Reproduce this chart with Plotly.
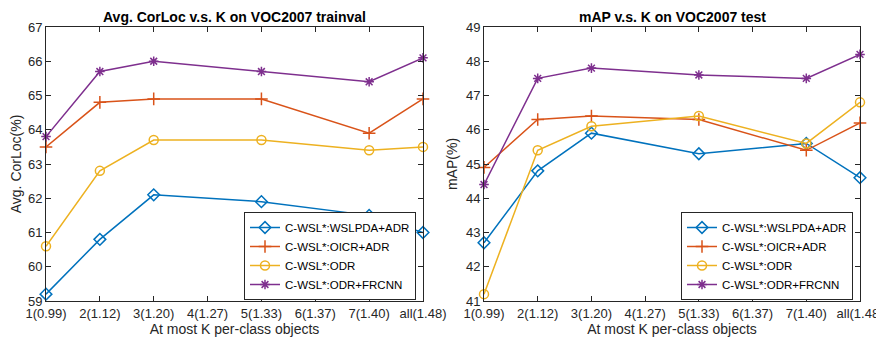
import plotly.graph_objects as go

tick_labels = ["1(0.99)", "2(1.12)", "3(1.20)", "4(1.27)", "5(1.33)", "6(1.37)", "7(1.40)", "all(1.48)"]
x_pos = [1, 2, 3, 5, 7, 8]
series_names = ["C-WSL*:WSLPDA+ADR", "C-WSL*:OICR+ADR", "C-WSL*:ODR", "C-WSL*:ODR+FRCNN"]

corloc_wslpda = [59.2, 60.8, 62.1, 61.9, 61.5, 61.0]
corloc_oicr = [63.5, 64.8, 64.9, 64.9, 63.9, 64.9]
corloc_odr = [60.6, 62.8, 63.7, 63.7, 63.4, 63.5]
corloc_frcnn = [63.8, 65.7, 66.0, 65.7, 65.4, 66.1]

map_wslpda = [42.7, 44.8, 45.9, 45.3, 45.6, 44.6]
map_oicr = [44.9, 46.3, 46.4, 46.3, 45.4, 46.2]
map_odr = [41.2, 45.4, 46.1, 46.4, 45.6, 46.8]
map_frcnn = [44.4, 47.5, 47.8, 47.6, 47.5, 48.2]

colors = ["#0072BD", "#D95319", "#EDB120", "#7E2F8E"]
symbols = ["diamond-open", "cross-thin-open", "circle-open", "asterisk-open"]
sizes = [9, 9, 9, 8]
FONT = "Liberation Sans, Arial"

fig = go.Figure()
left = [corloc_wslpda, corloc_oicr, corloc_odr, corloc_frcnn]
right = [map_wslpda, map_oicr, map_odr, map_frcnn]
for i in range(4):
    fig.add_trace(go.Scatter(x=x_pos, y=left[i], name=series_names[i], mode="lines+markers",
                             line=dict(color=colors[i], width=1.5),
                             marker=dict(symbol=symbols[i], size=sizes[i], color=colors[i],
                                         line=dict(width=1.5, color=colors[i])),
                             xaxis="x", yaxis="y", legend="legend", cliponaxis=False))
for i in range(4):
    fig.add_trace(go.Scatter(x=x_pos, y=right[i], name=series_names[i], mode="lines+markers",
                             line=dict(color=colors[i], width=1.5),
                             marker=dict(symbol=symbols[i], size=sizes[i], color=colors[i],
                                         line=dict(width=1.5, color=colors[i])),
                             xaxis="x2", yaxis="y2", legend="legend2", cliponaxis=False))

axis_common = dict(showgrid=False, zeroline=False, showline=True, linecolor="#262626", linewidth=1,
                   mirror="ticks", ticks="inside", ticklen=5, tickcolor="#262626", automargin=False,
                   tickfont=dict(family=FONT, size=13, color="#262626"))
xcommon = dict(axis_common, range=[1, 8], tickmode="array", tickvals=list(range(1, 9)),
               ticktext=tick_labels,
               title=dict(text="At most K per-class objects", standoff=3,
                          font=dict(family=FONT, size=14, color="#262626")))

# the page places the figure 8px right of and below the window corner
OFF = 8
W, H = 884 - OFF, 339 - OFF
ML, MR, MT, MB = 46 - OFF, 24, 27 - OFF, 38
PW = W - ML - MR
PH = H - MT - MB


def px_x(sx):
    return (sx - OFF - ML) / PW


def px_y(sy):
    return (339 - sy - MB) / PH


fig.update_layout(
    width=W, height=H, margin=dict(l=ML, r=MR, t=MT, b=MB, autoexpand=False),
    plot_bgcolor="white", paper_bgcolor="white",
    xaxis=dict(xcommon, domain=[0, px_x(423)], anchor="y"),
    xaxis2=dict(xcommon, domain=[px_x(484), 1], anchor="y2"),
    yaxis=dict(axis_common, domain=[0, 1], range=[59, 67], dtick=1, anchor="x",
               title=dict(text="Avg. CorLoc(%)", standoff=5,
                          font=dict(family=FONT, size=14, color="#262626"))),
    yaxis2=dict(axis_common, domain=[0, 1], range=[41, 49], dtick=1, anchor="x2",
                title=dict(text="mAP(%)", standoff=5,
                           font=dict(family=FONT, size=14, color="#262626"))),
    legend=dict(x=px_x(416), y=px_y(300), xanchor="right", yanchor="bottom",
                bgcolor="white", bordercolor="#262626", borderwidth=1,
                font=dict(family=FONT, size=11.5, color="black"),
                tracegroupgap=0, itemwidth=30),
    legend2=dict(x=px_x(853), y=px_y(300), xanchor="right", yanchor="bottom",
                 bgcolor="white", bordercolor="#262626", borderwidth=1,
                 font=dict(family=FONT, size=11.5, color="black"),
                 tracegroupgap=0, itemwidth=30),
    annotations=[
        dict(text="<b>Avg. CorLoc v.s. K on VOC2007 trainval</b>", x=px_x((46 + 423) / 2), y=px_y(17),
             xref="paper", yref="paper", showarrow=False, xanchor="center", yanchor="middle",
             font=dict(family=FONT, size=14, color="black")),
        dict(text="<b>mAP v.s. K on VOC2007 test</b>", x=px_x((484 + 860) / 2), y=px_y(17),
             xref="paper", yref="paper", showarrow=False, xanchor="center", yanchor="middle",
             font=dict(family=FONT, size=14, color="black")),
    ],
)
fig.write_html("out.html")
